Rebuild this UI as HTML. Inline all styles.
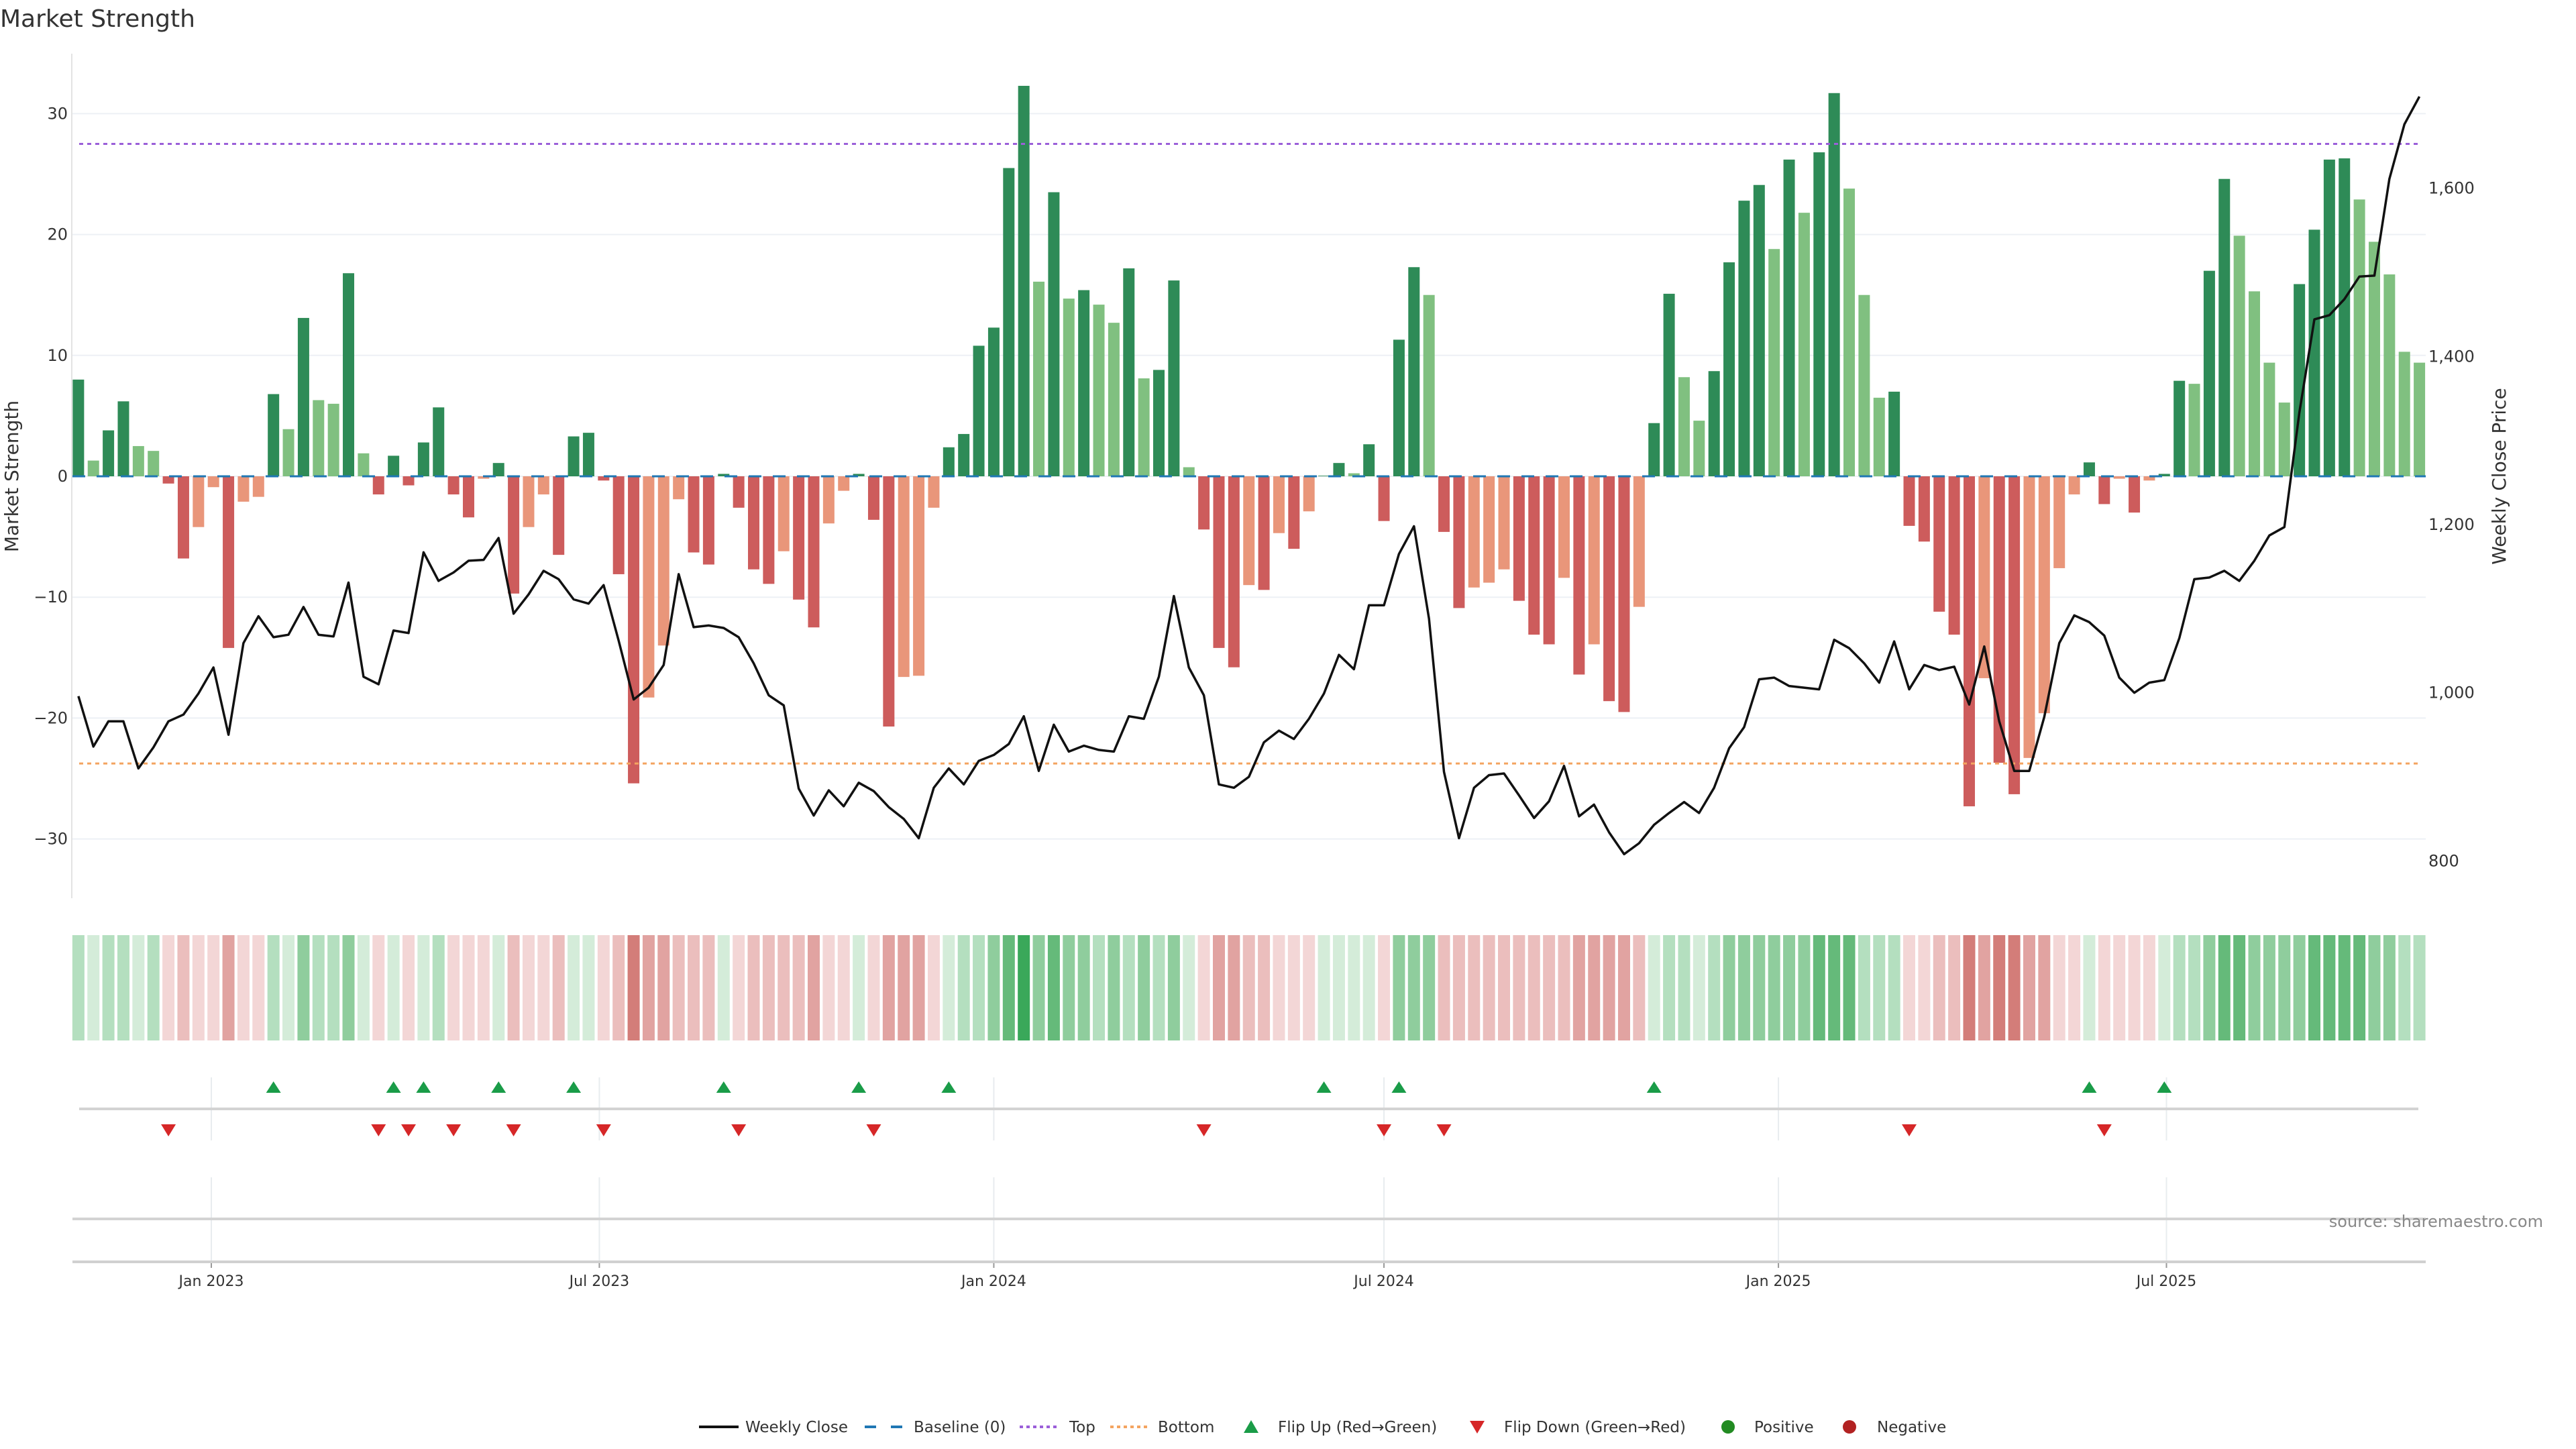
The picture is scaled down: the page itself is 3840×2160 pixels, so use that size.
<!DOCTYPE html>
<html><head><meta charset="utf-8">
<style>
html,body{margin:0;padding:0;background:#fff;}
svg{display:block;font-family:"DejaVu Sans","Liberation Sans",sans-serif;}
</style></head>
<body>
<svg id="chart" width="3840" height="2160" viewBox="0 0 3840 2160" xmlns="http://www.w3.org/2000/svg">
  <rect width="3840" height="2160" fill="#ffffff"/>
  <text x="0" y="40" font-size="36" fill="#333">Market Strength</text>
  <g id="grid"></g>
  <g id="bars"></g>
  <g id="lines"></g>
  <g id="axes"></g>
  <g id="strip"></g>
  <g id="flips"></g>
  <g id="legend"></g>
  <text x="3791" y="1829" font-size="24" fill="#888" text-anchor="end">source: sharemaestro.com</text>
</svg>
<script>
// ---- data ----
const strength = [8.0,1.3,3.8,6.2,2.5,2.1,-0.6,-6.8,-4.2,-0.9,-14.2,-2.1,-1.7,6.8,3.9,13.1,6.3,6.0,16.8,1.9,
-1.5,1.7,-0.75,2.8,5.7,-1.5,-3.4,-0.2,1.1,-9.7,-4.2,-1.5,-6.5,3.3,3.6,-0.35,-8.1,-25.4,-18.3,-14.0,
-1.9,-6.3,-7.3,0.2,-2.6,-7.7,-8.9,-6.2,-10.2,-12.5,-3.9,-1.2,0.2,-3.6,-20.7,-16.6,-16.5,-2.6,2.4,3.5,
10.8,12.3,25.5,32.3,16.1,23.5,14.7,15.4,14.2,12.7,17.2,8.1,8.8,16.2,0.75,-4.4,-14.2,-15.8,-9.0,-9.4,
-4.7,-6.0,-2.9,0.05,1.1,0.25,2.65,-3.7,11.3,17.3,15.0,-4.6,-10.9,-9.2,-8.8,-7.7,-10.3,-13.1,-13.9,-8.4,
-16.4,-13.9,-18.6,-19.5,-10.8,4.4,15.1,8.2,4.6,8.7,17.7,22.8,24.1,18.8,26.2,21.8,26.8,31.7,23.8,15.0,
6.5,7.0,-4.1,-5.4,-11.2,-13.1,-27.3,-16.7,-23.7,-26.3,-23.3,-19.6,-7.6,-1.5,1.15,-2.3,-0.2,-3.0,-0.35,0.2,
7.9,7.65,17.0,24.6,19.9,15.3,9.4,6.1,15.9,20.4,26.2,26.3,22.9,19.4,16.7,10.3,9.4];
const closes = [996,936,966,966,910,935,966,974,999,1030,950,1059,1091,1066,1069,1102,1069,1067,1131,1019,
1010,1074,1071,1167,1133,1143,1157,1158,1184,1094,1117,1145,1135,1111,1106,1128,1062,992,1006,1033,
1141,1078,1080,1077,1066,1035,997,985,886,854,884,865,893,883,864,850,827,887,910,891,
919,926,939,972,907,962,930,937,932,930,972,969,1019,1115,1030,997,891,887,900,941,
955,945,969,999,1045,1028,1104,1104,1165,1198,1088,906,827,887,902,904,878,851,871,913,
853,867,834,808,821,843,857,870,857,887,934,959,1016,1018,1008,1006,1004,1063,1053,1035,
1012,1061,1004,1033,1027,1031,986,1055,966,907,907,971,1059,1092,1084,1068,1018,1000,1012,1015,
1065,1135,1137,1145,1133,1157,1187,1197,1333,1444,1449,1468,1495,1496,1611,1676,1709];
const heat = [2,1,2,2,1,2,-1,-2,-1,-1,-3,-1,-1,2,1,3,2,2,3,1,
-1,1,-1,1,2,-1,-1,-1,1,-2,-1,-1,-2,1,1,-1,-2,-4,-3,-3,
-2,-2,-2,1,-1,-2,-2,-2,-2,-3,-1,-1,1,-1,-3,-3,-3,-1,1,2,
2,3,4,5,3,4,3,3,2,3,2,3,2,3,1,-1,-3,-3,-2,-2,
-1,-1,-1,1,1,1,1,-1,3,3,3,-2,-2,-2,-2,-2,-2,-2,-2,-2,
-3,-3,-3,-3,-2,1,2,2,1,2,3,3,3,3,3,3,4,4,4,2,
2,2,-1,-1,-2,-2,-4,-3,-4,-4,-3,-3,-1,-1,1,-1,-1,-1,-1,1,
2,2,3,4,4,3,3,3,3,4,4,4,4,3,3,2,2];
const leftTicks = [30,20,10,0,-10,-20,-30];
const rightTicks = [800,1000,1200,1400,1600];
const dateTicks = ["2023-01-01","2023-07-01","2024-01-01","2024-07-01","2025-01-01","2025-07-01"];
const dateTickLabels = ["Jan 2023","Jul 2023","Jan 2024","Jul 2024","Jan 2025","Jul 2025"];
const firstWeek = "2022-10-31";
const topLevel = 27.5;
const bottomLevel = -23.76;

// ---- scales ----
const NS = "http://www.w3.org/2000/svg";
const DAY = 86400000;
const t0 = Date.parse("2023-01-01T00:00:00Z");
function xDate(s){ return 315 + (Date.parse(s+"T00:00:00Z") - t0)/DAY * (22.37/7); }
function xIdx(i){ return xDate(firstWeek) + i*22.37; }
function yL(v){ return 710 - 18.02*v; }
function yR(p){ return 710 - (p - 1257.4)*1.2535; }
function mk(tag, attrs, parent){ const e=document.createElementNS(NS,tag); for(const k in attrs) e.setAttribute(k,attrs[k]); parent.appendChild(e); return e; }
const G = id => document.getElementById(id);
const fmt = n => n.toLocaleString("en-US");
const X0 = 107, X1 = 3616;

// grid + axes
const grid = G("grid"), axes = G("axes");
leftTicks.forEach(v=>{
  const l = mk("line",{x1:X0,x2:X1,y1:yL(v),y2:yL(v),stroke:"#edf0f5","stroke-width":2},grid);
  
  
  const t = mk("text",{x:101,y:yL(v)+8,"font-size":24,fill:"#333","text-anchor":"end"},axes);
  t.textContent = v<0 ? "\u2212"+Math.abs(v) : String(v);
  
  
});
rightTicks.forEach(p=>{
  const t = mk("text",{x:3620,y:yR(p)+8,"font-size":24,fill:"#333"},axes);
  t.textContent = fmt(p);
  
  
});
const spine = mk("line",{x1:X0,x2:X0,y1:80,y2:1339,stroke:"#e3e3e3","stroke-width":2},axes);


const ylt = mk("text",{x:0,y:0,"font-size":28,fill:"#333","text-anchor":"middle",transform:"translate(27,710) rotate(-90)"},axes);
ylt.textContent="Market Strength";


const yrt = mk("text",{x:0,y:0,"font-size":28,fill:"#333","text-anchor":"middle",transform:"translate(3735,710) rotate(-90)"},axes);
yrt.textContent="Weekly Close Price";



// bars
const bars = G("bars");
strength.forEach((v,i)=>{
  const prev = i>0 ? strength[i-1] : -Infinity;
  const rising = v >= prev;
  let c;
  if (v >= 0) c = rising ? "#2e8b57" : "#80c080";
  else c = rising ? "#e9967a" : "#cd5c5c";
  const y = Math.min(yL(v), yL(0)), h = Math.abs(yL(v)-yL(0));
  const r = mk("rect",{x:xIdx(i)-8.5,y:y,width:17,height:Math.max(h,0.5),fill:c},bars);
  
  
});

// reference lines + close line
const lines = G("lines");
const bl = mk("line",{x1:108,x2:3616,y1:yL(0),y2:yL(0),stroke:"#1f77b4","stroke-width":3,"stroke-dasharray":"19 17"},lines);


const tl = mk("line",{x1:118,x2:3610,y1:yL(topLevel),y2:yL(topLevel),stroke:"#9b5fd9","stroke-width":3,"stroke-dasharray":"6 6"},lines);


const btl = mk("line",{x1:118,x2:3610,y1:yL(bottomLevel),y2:yL(bottomLevel),stroke:"#f4a460","stroke-width":3,"stroke-dasharray":"6 6"},lines);


const pts = closes.map((p,i)=>xIdx(i).toFixed(1)+","+yR(p).toFixed(1)).join(" ");
const cl = mk("polyline",{points:pts,fill:"none",stroke:"#111","stroke-width":3.5,"stroke-linejoin":"round"},lines);



// heat strip
const strip = G("strip");
const greens = ["#d4ecd9","#b4dfbf","#8fcd9d","#65ba7a","#3aa85a"];
const reds = ["#f3d6d6","#ebbebd","#e1a3a1","#d37d79","#c9605c"];
heat.forEach((h,i)=>{
  const c = h>=0 ? greens[Math.min(h,5)-1] : reds[Math.min(-h,5)-1];
  const r = mk("rect",{x:xIdx(i)-9,y:1394,width:18,height:157,fill:c},strip);
  
  
});

// flip panel + bottom axis
const flips = G("flips");
dateTicks.forEach((d,k)=>{
  const x = xDate(d);
  const v1 = mk("line",{x1:x,x2:x,y1:1606,y2:1700,stroke:"#e8ecef","stroke-width":2},flips);
  
  
  const v2 = mk("line",{x1:x,x2:x,y1:1755,y2:1881,stroke:"#e8ecef","stroke-width":2},flips);
  
  
  const tk = mk("line",{x1:x,x2:x,y1:1881,y2:1890,stroke:"#999","stroke-width":2},flips);
  
  
  const t = mk("text",{x:x,y:1917,"font-size":22,fill:"#333","text-anchor":"middle"},flips);
  t.textContent = dateTickLabels[k];
  
  
});
const fl = mk("line",{x1:118,x2:3605,y1:1653,y2:1653,stroke:"#d3d3d3","stroke-width":4},flips);


const ll = mk("line",{x1:108,x2:3616,y1:1817,y2:1817,stroke:"#d3d3d3","stroke-width":4},flips);


const xa = mk("line",{x1:108,x2:3616,y1:1881,y2:1881,stroke:"#d0d0d0","stroke-width":4},flips);


strength.forEach((v,i)=>{
  if(i===0) return;
  const p = strength[i-1], x = xIdx(i);
  if(p<0 && v>=0){
    const t = mk("polygon",{points:`${x-11},1629 ${x+11},1629 ${x},1612`,fill:"#1a9c48"},flips);
    
    
  } else if(p>=0 && v<0){
    const t = mk("polygon",{points:`${x-11},1676 ${x+11},1676 ${x},1694`,fill:"#d62728"},flips);
    
    
  }
});

// legend
const lg = G("legend");
const LY = 2127;
function ltext(x, s, name){ const t=mk("text",{x:x,y:LY+8,"font-size":23,fill:"#333"},lg); t.textContent=s;   }
let e;
e = mk("line",{x1:1042,x2:1101,y1:LY,y2:LY,stroke:"#111","stroke-width":4},lg);
 
ltext(1111,"Weekly Close","legend-weekly-close");
e = mk("line",{x1:1289,x2:1345,y1:LY,y2:LY,stroke:"#1f77b4","stroke-width":4,"stroke-dasharray":"17 22"},lg);
 
ltext(1362,"Baseline (0)","legend-baseline");
e = mk("line",{x1:1520,x2:1577,y1:LY,y2:LY,stroke:"#9b5fd9","stroke-width":4,"stroke-dasharray":"5 5"},lg);
 
ltext(1594,"Top","legend-top");
e = mk("line",{x1:1655,x2:1711,y1:LY,y2:LY,stroke:"#f4a460","stroke-width":4,"stroke-dasharray":"5 5"},lg);
 
ltext(1726,"Bottom","legend-bottom");
e = mk("polygon",{points:`1854,${LY+9} 1876,${LY+9} 1865,${LY-10}`,fill:"#1a9c48"},lg);
 
ltext(1905,"Flip Up (Red\u2192Green)","legend-flip-up");
e = mk("polygon",{points:`2191,${LY-9} 2213,${LY-9} 2202,${LY+10}`,fill:"#d62728"},lg);
 
ltext(2242,"Flip Down (Green\u2192Red)","legend-flip-down");
e = mk("circle",{cx:2576,cy:LY,r:10,fill:"#228b22"},lg);
 
ltext(2615,"Positive","legend-positive");
e = mk("circle",{cx:2757,cy:LY,r:10,fill:"#b22222"},lg);
 
ltext(2798,"Negative","legend-negative");
</script>
</body></html>
